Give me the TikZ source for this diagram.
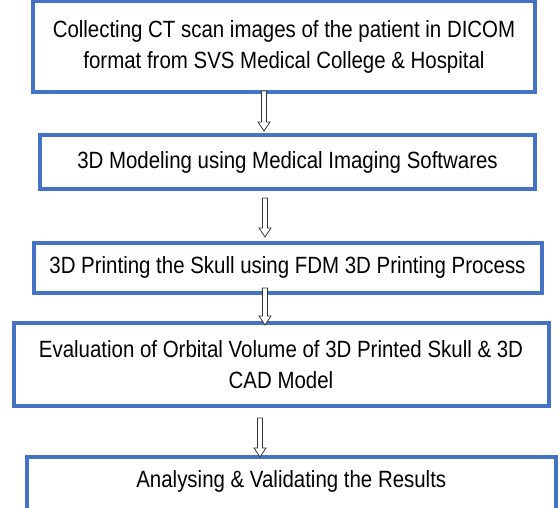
\documentclass[tikz,border=0pt]{standalone}
\usepackage{fontspec}
\setmainfont{Liberation Sans}
\newfontfamily\stagefont[FakeStretch=0.87]{Liberation Sans}
\usetikzlibrary{calc}
\definecolor{colorBox}{HTML}{4472C4}
\colorlet{colorFlow}{gray!40!black}
\tikzset{
   stage/.style={draw=colorBox,line width=4pt,align=center,outer sep=0pt,inner sep=0pt,font=\stagefont\fontsize{23.5}{31}\selectfont},
   flow/.style={draw=colorFlow,fill=white,line width=0.7pt,line join=miter},
 }
\newcommand{\dflow}[5]{\draw[flow] ($(#1,0 |- #2)+(-2.5,#4)$) -- ($(#1,0 |- #3)+(-2.5,#5+9)$) -- ++(-3.5,0) -- ($(#1,0 |- #3)+(0,#5)$) -- ++(6,9) -- ++(-3.5,0) -- ($(#1,0 |- #2)+(2.5,#4)$) -- cycle}

\begin{document}
\begin{tikzpicture}[x=1pt,y=1pt]
      \clip (0,0) rectangle (560,-508);

      \node[stage,minimum width=502,minimum height=91] (collect) at (284,-46.5)
        {Collecting CT scan images of the patient in DICOM\\format from SVS Medical College \& Hospital};

      \node[stage,minimum width=495,minimum height=54] (model) at (287.5,-162.5)
        {3D Modeling using Medical Imaging Softwares};
      \dflow{264}{collect.south}{model.north}{1}{4.5};

      \node[stage,minimum width=508,minimum height=49.5] (print) at (287.5,-267.75)
        {3D Printing the Skull using FDM 3D Printing Process};
      \dflow{265}{model.south}{print.north}{-8.5}{6};

      \node[stage,minimum width=535,minimum height=83] (eval) at (281,-364.5)
        {Evaluation of Orbital Volume of 3D Printed Skull \& 3D\\CAD Model};
      \dflow{265}{print.south}{eval.north}{4.5}{-2};

      \node[stage,minimum width=529.3,text height=30pt,text depth=25pt,anchor=base] (result) at (291.3,-487)
        {Analysing \& Validating the Results};
      \dflow{260}{eval.south}{result.north}{-12}{0};
    \end{tikzpicture}
\end{document}
